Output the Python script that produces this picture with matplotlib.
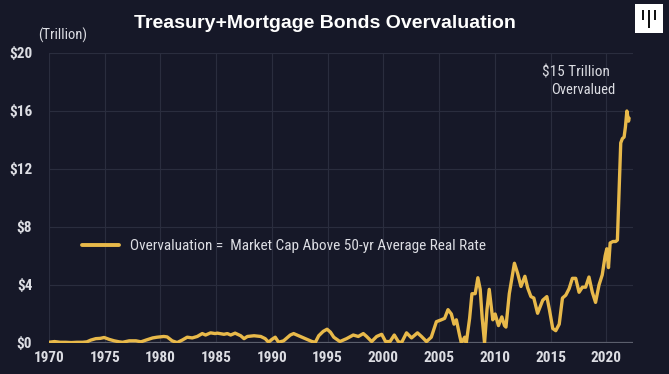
import matplotlib
matplotlib.use("Agg")
import matplotlib.pyplot as plt
from matplotlib.patches import Rectangle

# ---- data ----
years = [1970.0, 1970.5, 1971.0, 1971.5, 1972.0, 1972.5, 1973.0, 1973.4, 1973.75, 1974.2,
         1974.6, 1974.95, 1975.4, 1975.85, 1976.3, 1976.6, 1977.2, 1977.8, 1978.25, 1978.7,
         1979.3, 1979.7, 1980.3, 1980.6, 1981.05, 1981.5, 1981.95, 1982.4, 1982.85, 1983.3,
         1983.75, 1984.05, 1984.5, 1984.9, 1985.1, 1985.7, 1986.0, 1986.3, 1986.7, 1987.2,
         1987.5, 1987.8, 1988.4, 1989.0, 1989.4, 1989.7, 1990.0, 1990.3, 1990.6, 1991.05,
         1991.65, 1991.95, 1992.4, 1992.7, 1993.15, 1993.6, 1993.9, 1994.2, 1994.6, 1994.95,
         1995.25, 1995.55, 1996.1, 1996.7, 1997.3, 1997.75, 1998.2, 1998.5, 1998.95, 1999.4,
         1999.85, 2000.2, 2000.6, 2000.98, 2001.34, 2001.63, 2002.08, 2002.53, 2003.06, 2003.42,
         2003.87, 2004.3, 2004.76, 2005.2, 2005.5, 2005.8, 2006.1, 2006.34, 2006.55, 2006.85,
         2007.0, 2007.3, 2007.44, 2007.74, 2007.95, 2008.24, 2008.48, 2008.69, 2008.87, 2009.08,
         2009.3, 2009.5, 2009.82, 2010.03, 2010.33, 2010.63, 2010.87, 2011.0, 2011.3, 2011.76,
         2012.05, 2012.35, 2012.7, 2012.95, 2013.24, 2013.5, 2013.84, 2014.3, 2014.67, 2014.9,
         2015.2, 2015.47, 2015.78, 2016.07, 2016.37, 2016.67, 2016.96, 2017.26, 2017.56, 2017.86,
         2018.15, 2018.45, 2018.75, 2019.04, 2019.35, 2019.64, 2019.9, 2020.05, 2020.2, 2020.35,
         2020.6, 2020.85, 2021.0, 2021.15, 2021.3, 2021.45, 2021.6, 2021.72, 2021.85, 2022.0,
         2022.05]
overvaluation = [0.05, 0.1, 0.05, 0.05, 0.03, 0.05, 0.05, 0.08, 0.2, 0.3,
                 0.32, 0.38, 0.25, 0.15, 0.08, 0.05, 0.15, 0.15, 0.08, 0.2,
                 0.35, 0.4, 0.45, 0.42, 0.15, 0.03, 0.2, 0.4, 0.35, 0.45,
                 0.65, 0.55, 0.7, 0.65, 0.68, 0.6, 0.65, 0.55, 0.68, 0.5,
                 0.3, 0.45, 0.5, 0.45, 0.3, 0.05, 0.25, 0.4, 0.05, 0.15,
                 0.55, 0.65, 0.5, 0.4, 0.25, 0.1, 0.05, 0.5, 0.8, 0.95,
                 0.75, 0.4, 0.1, 0.3, 0.55, 0.45, 0.65, 0.45, 0.1, 0.45,
                 0.6, 0.1, 0.1, 0.55, 0.1, 0.02, 0.7, 0.35, 0.7, 0.45,
                 0.1, 0.4, 1.47, 1.6, 1.7, 2.3, 2.0, 1.3, 1.6, 0.5,
                 0.0, 0.4, 0.0, 1.7, 3.4, 3.4, 4.5, 3.7, 1.7, 0.0,
                 2.3, 3.7, 1.6, 2.0, 1.2, 1.8, 1.2, 1.1, 3.4, 5.5,
                 4.8, 3.9, 4.6, 3.8, 3.2, 3.1, 2.05, 2.95, 3.2, 2.3,
                 1.0, 0.85, 1.3, 3.1, 3.3, 3.75, 4.46, 4.46, 3.5, 3.85,
                 3.85, 4.55, 3.5, 2.8, 4.0, 4.7, 6.0, 6.5, 5.2, 6.9,
                 7.0, 7.0, 7.1, 10.5, 13.8, 14.1, 14.2, 14.9, 16.0, 15.3,
                 15.5]
x_ticks = [1970, 1975, 1980, 1985, 1990, 1995, 2000, 2005, 2010, 2015, 2020]
y_ticks = [0, 4, 8, 12, 16, 20]
y_tick_labels = ["$0", "$4", "$8", "$12", "$16", "$20"]
title = "Treasury+Mortgage Bonds Overvaluation"
unit_label = "(Trillion)"
series_label = "Overvaluation =  Market Cap Above 50-yr Average Real Rate"
annot_1 = "$15 Trillion"
annot_2 = "Overvalued"

# ---- style ----
BG = "#161828"
GOLD = "#E8B94A"
GRID = "#2a2d3e"
TXT = "#dcdde3"
narrow = ["Liberation Sans Narrow", "Roboto Condensed", "Roboto", "DejaVu Sans"]
bold = ["Liberation Sans", "Roboto", "DejaVu Sans"]

W, H = 669, 374
fig = plt.figure(figsize=(W / 100, H / 100), dpi=100, facecolor=BG)
L, R, T, B = 49, 633, 53, 343
ax = fig.add_axes([L / W, 1 - B / H, (R - L) / W, (B - T) / H], facecolor=BG)

ax.plot(years, overvaluation, color=GOLD, lw=2.4, solid_joinstyle="round",
        solid_capstyle="round", label=series_label, zorder=3)

ax.set_xlim(1970, 2022.4)
ax.set_ylim(0, 20)
ax.set_xticks(x_ticks)
ax.set_xticklabels([str(v) for v in x_ticks], family=narrow, fontsize=11,
                   color=TXT, fontweight="bold")
ax.set_yticks(y_ticks)
ax.set_yticklabels(y_tick_labels, family=narrow, fontsize=11, color=TXT,
                   fontweight="bold")
ax.tick_params(axis="both", length=0)
ax.tick_params(axis="x", pad=6)
ax.tick_params(axis="y", pad=12)
ax.grid(True, color=GRID, lw=0.8, zorder=0)
ax.axhline(0, color="#5b5e6c", lw=1.6, zorder=2)
for s in ax.spines.values():
    s.set_visible(False)

leg = ax.legend(loc="center left", bbox_to_anchor=((82 - L) / (R - L), (B - 246) / (B - T)),
                frameon=False, borderpad=0, borderaxespad=0, handlelength=2.4,
                handletextpad=0.75, prop={"family": narrow, "size": 11})
for t in leg.get_texts():
    t.set_color(TXT)
for h in leg.get_lines():
    h.set_linewidth(2.8)

fig.text(325 / W, 1 - 23 / H, title, ha="center", va="center", family=bold,
         fontweight="bold", fontsize=14, color="white")
fig.text(38 / W, 1 - 35 / H, unit_label, ha="left", va="center", family=narrow,
         fontsize=10.5, color=TXT)
fig.text(610 / W, 1 - 73 / H, annot_1, ha="right", va="center", family=narrow,
         fontsize=11, color=TXT)
fig.text(615 / W, 1 - 90 / H, annot_2, ha="right", va="center", family=narrow,
         fontsize=10.5, color=TXT)

# logo
fig.patches.append(Rectangle((635 / W, 1 - 32.5 / H), 27.5 / W, 29 / H,
                             transform=fig.transFigure, facecolor="white",
                             edgecolor="none", figure=fig))
for bx, top, bot in [(642.7, 9.5, 20), (649, 9.5, 27.5), (655.3, 9.5, 20)]:
    fig.patches.append(Rectangle(((bx - 1.1) / W, 1 - bot / H), 2.2 / W, (bot - top) / H,
                                 transform=fig.transFigure, facecolor="#111111",
                                 edgecolor="none", figure=fig))

fig.savefig("out.png", dpi=100, facecolor=BG)
